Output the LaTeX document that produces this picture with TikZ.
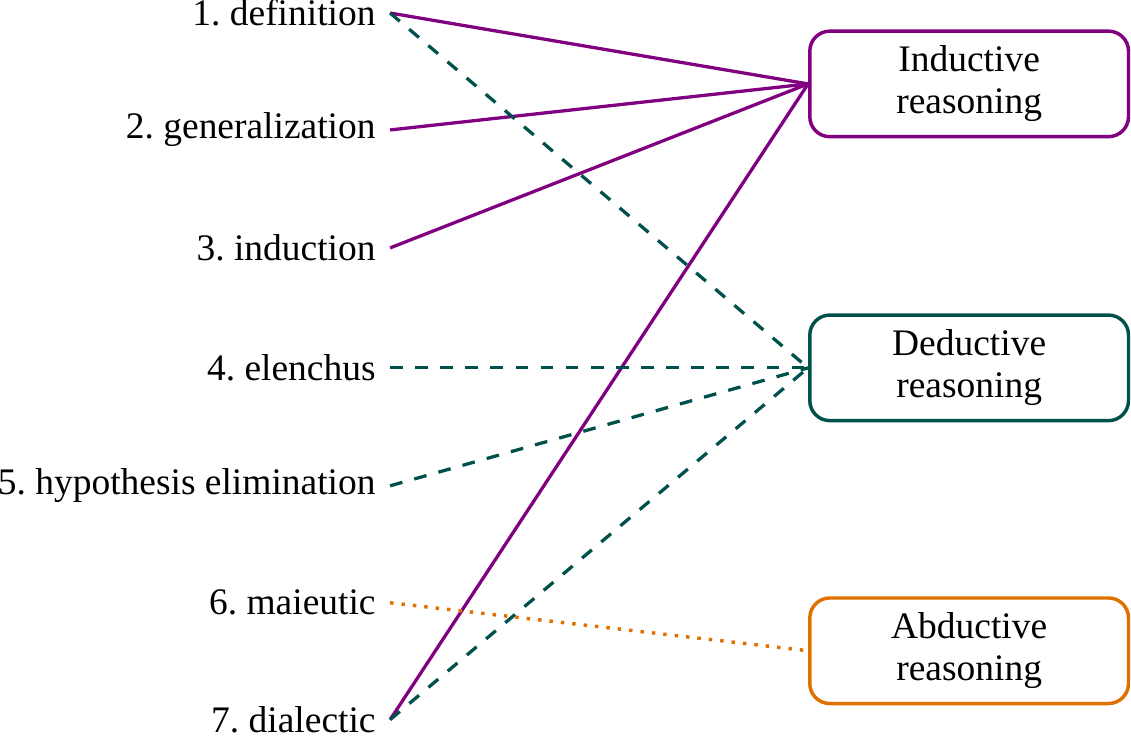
\documentclass[tikz,border=0pt]{standalone}
\usepackage{fontspec}
\setmainfont{Liberation Serif}
\frenchspacing
\definecolor{indcol}{RGB}{128,0,128}
\definecolor{dedcol}{RGB}{0,80,76}
\definecolor{abdcol}{RGB}{224,112,0}

\begin{document}
\begin{tikzpicture}[font=\fontsize{10.3}{11.6}\selectfont,
                    method/.style={anchor=east,inner sep=3.8pt},
                    kind/.style={draw,line width=0.95pt,rounded corners=5.5pt,minimum width=3.08cm,minimum height=1.02cm,align=center},
                    ind/.style={indcol,line width=0.9pt},
                    ded/.style={dedcol,line width=0.9pt,dash pattern=on 3.5pt off 3.4pt},
                    abd/.style={abdcol,line width=0.95pt,dash pattern=on 0.95pt off 2.2pt}]
                \useasboundingbox (0,0) rectangle (10.93,-7.11);
                \node[method] (m1) at (3.77,-0.126){1. definition};
                \node[method] (m2) at (3.77,-1.256){2. generalization};
                \node[method] (m3) at (3.77,-2.396){3. induction};
                \node[method] (m4) at (3.77,-3.555){4. elenchus};
                \node[method] (m5) at (3.77,-4.695){5. hypothesis elimination};
                \node[method] (m6) at (3.77,-5.825){6. maieutic};
                \node[method] (m7) at (3.77,-6.955){7. dialectic};
                \node[kind,indcol] (ind) at (9.366,-0.811){\color{black}Inductive\\\color{black}reasoning};
                \node[kind,dedcol] (ded) at (9.366,-3.555){\color{black}Deductive\\\color{black}reasoning};
                \node[kind,abdcol] (abd) at (9.366,-6.289){\color{black}Abductive\\\color{black}reasoning};
                \draw[ind] (m1.east)--(ind.west);
                \draw[ind] (m2.east)--(ind.west);
                \draw[ind] (m3.east)--(ind.west);
                \draw[ind] (m7.east)--(ind.west);
                \draw[ded] (m1.east)--(ded.west);
                \draw[ded] (m4.east)--(ded.west);
                \draw[ded] (m5.east)--(ded.west);
                \draw[ded] (m7.east)--(ded.west);
                \draw[abd] (m6.east)--(abd.west);
            \end{tikzpicture}
\end{document}
